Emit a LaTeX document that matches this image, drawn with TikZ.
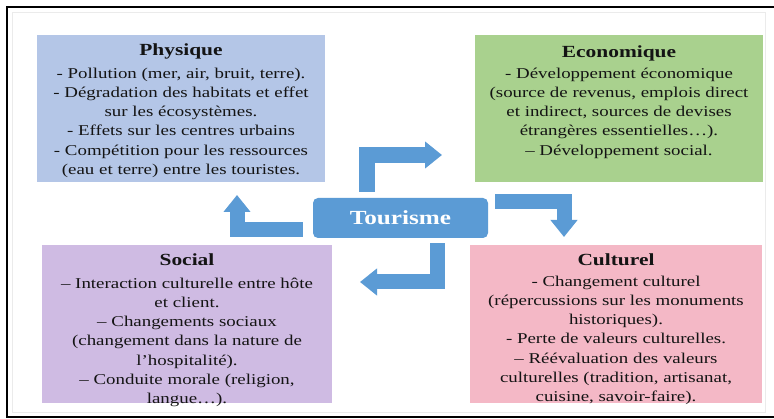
\documentclass[tikz,border=0pt]{standalone}
\usepackage{fontspec}
\setmainfont[FakeStretch=1.26]{Liberation Serif}
\usetikzlibrary{positioning,arrows.meta}

\definecolor{physblue}{HTML}{B4C6E7}
\definecolor{ecogreen}{HTML}{A9D18E}
\definecolor{socmauve}{HTML}{CFBBE3}
\definecolor{cultpink}{HTML}{F4B8C6}
\definecolor{tourblue}{HTML}{5B9BD5}

\tikzset{
  panel/.style={fill=#1, inner sep=0pt, minimum width=288pt, minimum height=147pt},
  paneltext/.style={align=center, inner sep=0pt, text=black!92,
    font=\fontsize{15}{19.3}\selectfont},
  bentarrow/.style={draw=tourblue, line width=15pt,
    -{Triangle[width=26pt,length=17pt]}},
}

\begin{document}
\begin{tikzpicture}[x=1pt, y=-1pt]
  \useasboundingbox (0,0) rectangle (774,419);
  \fill[white] (0,0) rectangle (774,419);

  % frame
  \draw[black!8, line width=1pt] (12,13) rectangle (765,413);
  \draw[line width=2pt] (774,7) -- (7,7) -- (7,417) -- (774,417);

  % the four domains
  \node[panel=physblue] (phys) at (181,108.5) {};
  \node[panel=ecogreen] (eco) at (619,108.5) {};
  \node[panel=socmauve, minimum width=290pt, minimum height=158pt] (soc) at (187,324) {};
  \node[panel=cultpink, minimum width=292pt, minimum height=158pt] (cult) at (616,324) {};

  \node[paneltext, below=9pt of phys.north] (physt) {%
    {\bfseries\fontsize{17}{19}\selectfont Physique}\\[3pt]
    - Pollution (mer, air, bruit, terre).\\
    - Dégradation des habitats et effet\\
    sur les écosystèmes.\\
    - Effets sur les centres urbains\\
    - Compétition pour les ressources\\
    (eau et terre) entre les touristes.};
  \node[paneltext, below=11pt of eco.north] (ecot) {%
    {\bfseries\fontsize{17}{19}\selectfont Economique}\\[1pt]
    - Développement économique\\
    (source de revenus, emplois direct\\
    et indirect, sources de devises\\
    étrangères essentielles…).\\
    – Développement social.};
  \node[paneltext, below=9pt of soc.north] (soct) {%
    {\bfseries\fontsize{17}{19}\selectfont Social}\\[3pt]
    – Interaction culturelle entre hôte\\
    et client.\\
    – Changements sociaux\\
    (changement dans la nature de\\
    l’hospitalité).\\
    – Conduite morale (religion,\\
    langue…).};
  \node[paneltext, below=9pt of cult.north] (cultt) {%
    {\bfseries\fontsize{17}{19}\selectfont Culturel}\\[1pt]
    - Changement culturel\\
    (répercussions sur les monuments\\
    historiques).\\
    - Perte de valeurs culturelles.\\
    – Réévaluation des valeurs\\
    culturelles (tradition, artisanat,\\
    cuisine, savoir-faire).};

  % centre
  \node[fill=tourblue, rounded corners=5pt, minimum width=175pt, minimum height=40pt,
        text=white, font=\bfseries\fontsize{20}{22}\selectfont] (tour) at (400.5,218) {Tourisme};

  % arrows
  \coordinate (ecotip) at (442,155);
  \coordinate (phystip) at (237,195);
  \coordinate (culttip) at (564,237);
  \coordinate (soctip) at (360,282);
  \draw[bentarrow, line width=16pt, shorten <=6pt] ([xshift=-34pt]tour.north) |- (ecotip);
  \draw[bentarrow, shorten <=10pt] ([yshift=-12pt]tour.west) -| (phystip);
  \draw[bentarrow, shorten <=7pt] ([yshift=16pt]tour.east) -| (culttip);
  \draw[bentarrow, shorten <=5pt] ([xshift=37pt]tour.south) |- (soctip);
\end{tikzpicture}
\end{document}
